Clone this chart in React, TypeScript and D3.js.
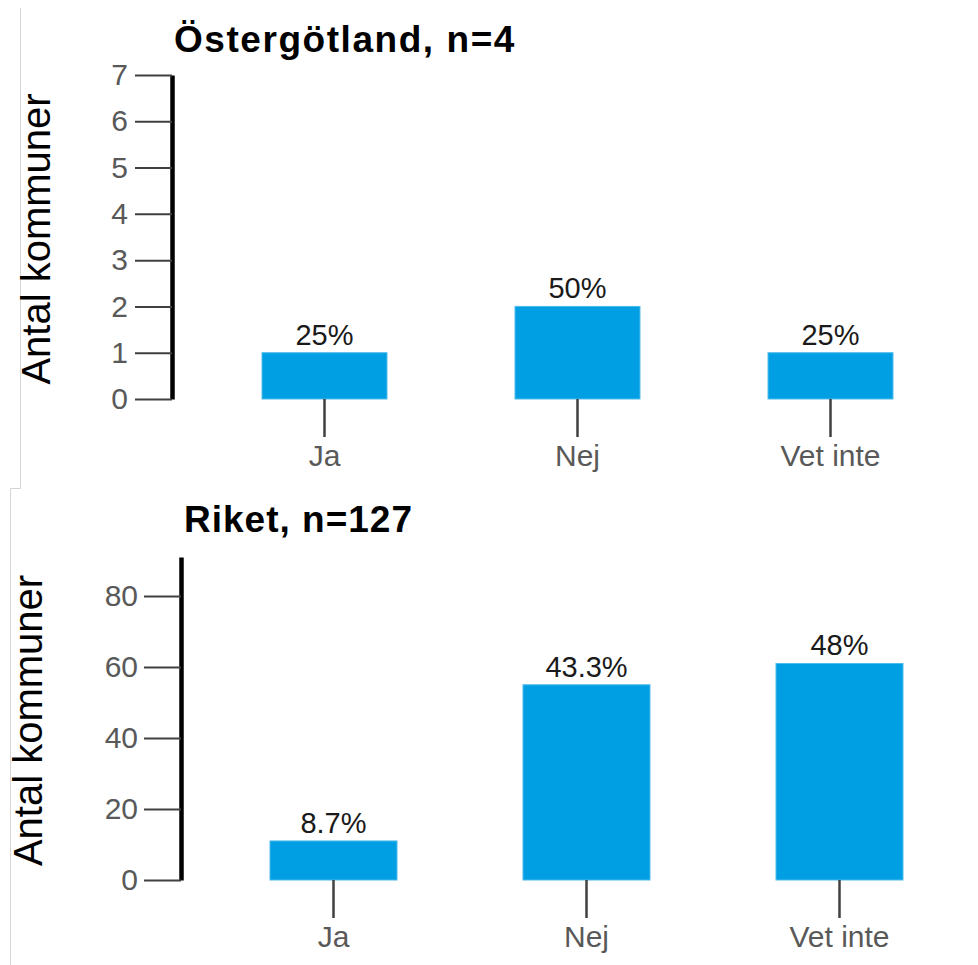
import React, { useEffect, useRef } from "react";
import * as d3 from "d3";

const categories = ["Ja", "Nej", "Vet inte"];
const ostergotlandCounts = [1, 2, 1];
const ostergotlandLabels = ["25%", "50%", "25%"];
const riketCounts = [11, 55, 61];
const riketLabels = ["8.7%", "43.3%", "48%"];
const ostergotlandTicks = [0, 1, 2, 3, 4, 5, 6, 7];
const riketTicks = [0, 20, 40, 60, 80];
const titles = ["Östergötland, n=4", "Riket, n=127"];
const yTitle = "Antal kommuner";

const FONT = "'Liberation Sans', Arial, Helvetica, sans-serif";
const BAR = "#009FE3";

type PanelCfg = {
  title: string;
  titleSpacing: number;
  counts: number[];
  labels: string[];
  ticks: number[];
  yMax: number;
  yTop: number;
  yBottom: number;
  axisX: number;
  titleX: number;
  titleY: number;
  yTitleX: number;
  xRange: [number, number];
  padInner: number;
  tickPad: number;
};

function drawPanel(g: d3.Selection<SVGGElement, unknown, null, undefined>, c: PanelCfg) {
  const y = d3.scaleLinear().domain([0, c.yMax]).range([c.yBottom, c.yTop]);
  const x = d3
    .scaleBand<string>()
    .domain(categories)
    .range(c.xRange)
    .paddingInner(c.padInner)
    .paddingOuter(c.padInner / 2);

  // title
  g.append("text")
    .attr("x", c.titleX)
    .attr("y", c.titleY)
    .attr("font-family", FONT)
    .attr("font-weight", "bold")
    .attr("font-size", 37)
    .attr("letter-spacing", c.titleSpacing)
    .attr("fill", "#000")
    .text(c.title);

  // y axis title
  g.append("text")
    .attr("transform", `translate(${c.yTitleX},${(c.yTop + c.yBottom) / 2 + 2}) rotate(-90)`)
    .attr("text-anchor", "middle")
    .attr("font-family", FONT)
    .attr("font-size", 40)
    .attr("fill", "#000")
    .text(yTitle);

  // y axis
  const yAxis = d3
    .axisLeft(y)
    .tickValues(c.ticks)
    .tickSize(37)
    .tickSizeOuter(0)
    .tickPadding(c.tickPad)
    .tickFormat(d3.format("d") as any);
  const ya = g.append("g").attr("transform", `translate(${c.axisX},0)`).call(yAxis);
  ya.select(".domain").attr("stroke", "#000").attr("stroke-width", 4.5);
  ya.selectAll(".tick line").attr("stroke", "#404040").attr("stroke-width", 2);
  ya.selectAll(".tick text")
    .attr("font-family", FONT)
    .attr("font-size", 30)
    .attr("fill", "#595959");

  // bars
  g.selectAll("rect.bar")
    .data(c.counts)
    .enter()
    .append("rect")
    .attr("class", "bar")
    .attr("x", (_d, i) => x(categories[i])!)
    .attr("width", x.bandwidth())
    .attr("y", (d) => y(d))
    .attr("height", (d) => y(0) - y(d))
    .attr("fill", BAR)
    .attr("stroke", "#4dbbec")
    .attr("stroke-width", 1);

  // value labels
  g.selectAll("text.val")
    .data(c.counts)
    .enter()
    .append("text")
    .attr("class", "val")
    .attr("x", (_d, i) => x(categories[i])! + x.bandwidth() / 2)
    .attr("y", (d) => y(d) - 8)
    .attr("text-anchor", "middle")
    .attr("font-family", FONT)
    .attr("font-size", 29)
    .attr("fill", "#1a1a1a")
    .text((_d, i) => c.labels[i]);

  // x axis
  const xAxis = d3.axisBottom(x).tickSize(38).tickSizeOuter(0).tickPadding(8);
  const xa = g.append("g").attr("transform", `translate(0,${c.yBottom})`).call(xAxis);
  xa.select(".domain").remove();
  xa.selectAll(".tick line").attr("stroke", "#404040").attr("stroke-width", 2.5);
  xa.selectAll(".tick text")
    .attr("font-family", FONT)
    .attr("font-size", 30)
    .attr("fill", "#595959");
}

export default function App() {
  const ref = useRef<SVGSVGElement>(null);
  useEffect(() => {
    const svg = d3.select(ref.current!);
    svg.selectAll("*").remove();

    // faint screenshot borders
    const border = svg.append("g").attr("stroke", "#d6d6d6").attr("stroke-width", 1).attr("fill", "none");
    border.append("path").attr("d", "M20.5,8 V488.5 H10.5 V965");

    const top = svg.append("g");
    drawPanel(top, {
      title: titles[0],
      titleSpacing: 1.55,
      counts: ostergotlandCounts,
      labels: ostergotlandLabels,
      ticks: ostergotlandTicks,
      yMax: 7,
      yTop: 75,
      yBottom: 399,
      axisX: 172,
      titleX: 174,
      titleY: 52,
      yTitleX: 50,
      xRange: [198, 957],
      padInner: 0.506,
      tickPad: 7,
    });

    const bottom = svg.append("g");
    drawPanel(bottom, {
      title: titles[1],
      titleSpacing: 1.0,
      counts: riketCounts,
      labels: riketLabels,
      ticks: riketTicks,
      yMax: 91,
      yTop: 557,
      yBottom: 880,
      axisX: 181,
      titleX: 184,
      titleY: 532,
      yTitleX: 42,
      xRange: [207, 966],
      padInner: 0.498,
      tickPad: 6,
    });
  }, []);

  return (
    <div style={{ position: "absolute", left: 0, top: 0 }}>
      <svg ref={ref} width={978} height={965} style={{ display: "block", background: "#fff" }} />
    </div>
  );
}
